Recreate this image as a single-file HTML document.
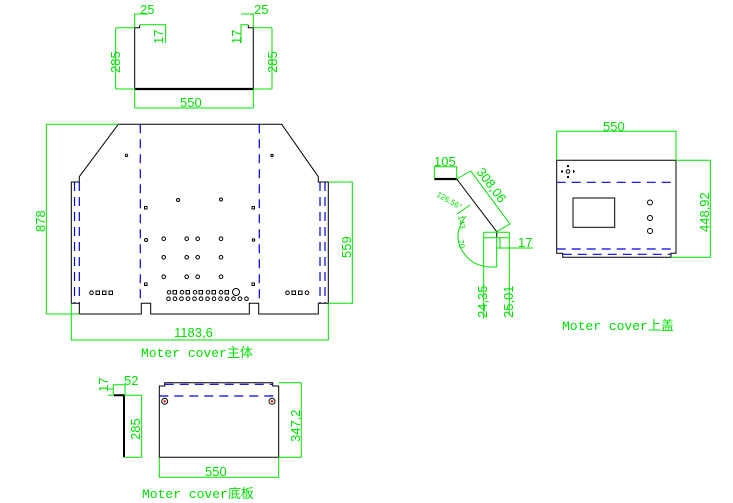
<!DOCTYPE html>
<html><head><meta charset="utf-8"><style>
html,body{margin:0;padding:0;background:#fff}
svg{display:block}
.g{stroke:#00e000;fill:none;stroke-width:1}
.k{stroke:#000;fill:none;stroke-width:1}
.b{stroke:#0000e0;fill:none;stroke-width:1.2;stroke-dasharray:9,6}
text{font-family:"Liberation Sans",sans-serif;fill:#00e000;font-size:13px}
.lbl{font-family:"Liberation Mono","Noto Sans CJK SC",monospace;font-size:13px}
</style></head><body>
<svg width="733" height="503" viewBox="0 0 733 503" xmlns="http://www.w3.org/2000/svg">
<!-- TOP VIEW -->
<path class="k" d="M134.7,89 V27.7 H139.7 V25 M253.3,89 V27.7 H248.3 V25"/>
<line x1="134.7" y1="89" x2="253.3" y2="89" stroke="#000" stroke-width="2.2"/>
<path class="g" d="M134.7,27 V14 H148 M139.7,24.7 H165.7 V43 M253.3,27 V14 H241 M248.3,24.7 H241 V43"/>
<path class="g" d="M115.7,27.7 V89 M115.7,27.7 H134.7 M115.7,89 H134.7 M272,27.7 V89 M253.3,27.7 H272 M253.3,89 H272 M134.7,89 V108 M253.3,89 V108 M134.7,108 H253.3"/>
<text x="140" y="14">25</text><text x="254" y="14">25</text>
<text transform="translate(163,44) rotate(-90)">17</text>
<text transform="translate(241,44) rotate(-90)">17</text>
<text transform="translate(120,73) rotate(-90)">285</text>
<text transform="translate(277,73) rotate(-90)">285</text>
<text x="180" y="107">550</text>

<!-- MAIN VIEW -->
<path class="k" d="M118.3,124.3 H281.7 L318.3,176.7 V182 H328.3 V303.3 H318.3 V314 H258.7 V303.3 H249.3 V314 H150.7 V303.3 H141.3 V314 H79.3 V303.3 H71.3 V182 H79.3 V176.7 Z"/>
<path class="b" d="M140.3,124.3 V303 M259.3,124.3 V303 M74.5,182 V303 M79.3,182 V303 M320,182 V303 M325,182 V303"/>
<path class="g" d="M46.3,124.3 V314 M46.3,124.3 H118.3 M46.3,314 H79.3 M328.3,182 H352.3 V303.3 H328.3 M71.3,303.3 V340 H328.3 V303.3"/>
<text transform="translate(45,232) rotate(-90)">878</text>
<text transform="translate(351,258) rotate(-90)">559</text>
<text x="174" y="337">1183,6</text>
<text class="lbl" x="141" y="357">Moter cover主体</text>
<g class="k" stroke-width="0.9">
<circle cx="126.5" cy="155.5" r="1.2"/><circle cx="272" cy="155.5" r="1.2"/>
<circle cx="178" cy="200" r="1.5"/><circle cx="221" cy="199.5" r="1.5"/>
<rect x="144.5" y="206.5" width="2.5" height="2.5"/><rect x="252" y="206.5" width="2.5" height="2.5"/>
<circle cx="146" cy="240" r="1.5"/><circle cx="253.5" cy="240" r="1.3"/>
<rect x="144.5" y="283" width="2.5" height="2.5"/><rect x="252" y="283" width="2.5" height="2.5"/>
<circle cx="163.7" cy="238.7" r="1.8"/><circle cx="186.7" cy="238.7" r="1.8"/><circle cx="197.7" cy="238.7" r="1.8"/><circle cx="221" cy="238.7" r="1.8"/>
<circle cx="163.7" cy="257.3" r="1.8"/><circle cx="186.7" cy="257.3" r="1.8"/><circle cx="197.7" cy="257.3" r="1.8"/><circle cx="221" cy="257.3" r="1.8"/>
<circle cx="163.7" cy="276.7" r="1.8"/><circle cx="186.7" cy="276.7" r="1.8"/><circle cx="197.7" cy="276.7" r="1.8"/><circle cx="221" cy="276.7" r="1.8"/>
<circle cx="169" cy="292.3" r="1.8"/><rect x="173" y="290.5" width="3.5" height="3.5"/><circle cx="182" cy="292.3" r="1.8"/><rect x="186" y="290.5" width="3.5" height="3.5"/><circle cx="195" cy="292.3" r="1.8"/><rect x="199" y="290.5" width="3.5" height="3.5"/><circle cx="208" cy="292.3" r="1.8"/><rect x="212" y="290.5" width="3.5" height="3.5"/><circle cx="221" cy="292.3" r="1.8"/><rect x="225" y="290.5" width="3.5" height="3.5"/>
<circle cx="236" cy="292" r="3.5"/>
<circle cx="168.5" cy="298.7" r="1.8"/><circle cx="175" cy="298.7" r="1.8"/><circle cx="181.5" cy="298.7" r="1.8"/><circle cx="188" cy="298.7" r="1.8"/><circle cx="194.5" cy="298.7" r="1.8"/><circle cx="201" cy="298.7" r="1.8"/><circle cx="207.5" cy="298.7" r="1.8"/><circle cx="214" cy="298.7" r="1.8"/><circle cx="220.5" cy="298.7" r="1.8"/><circle cx="227" cy="298.7" r="1.8"/><circle cx="233.5" cy="298.7" r="1.8"/><circle cx="240" cy="298.7" r="1.8"/><circle cx="246.5" cy="298.7" r="1.8"/>
<circle cx="91.5" cy="292.7" r="1.8"/><rect x="96" y="291" width="3.5" height="3.5"/><rect x="102.5" y="291" width="3.5" height="3.5"/><rect x="109" y="291" width="3.5" height="3.5"/>
<circle cx="287.5" cy="292.7" r="1.8"/><rect x="292" y="291" width="3.5" height="3.5"/><rect x="298.5" y="291" width="3.5" height="3.5"/><circle cx="307" cy="292.7" r="1.8"/>
</g>

<!-- SIDE VIEW -->
<line x1="434.3" y1="179" x2="456.7" y2="179" stroke="#000" stroke-width="2.2"/>
<path class="k" stroke-width="1.4" d="M456.7,179 L496.7,231.7 V237"/>
<path class="g" d="M434.3,179 V166.7 H456.7 V179 M456.7,179 L470.7,171 L510,224 L496.7,231.7"/>
<path class="g" d="M483.7,232.3 H509.3 M483.7,237.7 H509.3 M483.7,232.3 V319 M509.3,232.3 V315 M496.7,237 V267 M500,237 V248 M496.7,248 H533 M466,216 Q448,240 470,260 Q480,268 496.7,267 M457,214 L470,205"/>
<text x="434" y="166">105</text>
<text transform="translate(476,172) rotate(53)">308,06</text>
<text x="518" y="247">17</text>
<text transform="translate(487,318) rotate(-90)">24,35</text>
<text transform="translate(513,318) rotate(-90)">25,01</text>
<text style="font-size:8px" transform="translate(436,196) rotate(30)">126.56°</text>
<text style="font-size:8px" transform="translate(458,216) rotate(80)">143.</text>
<text style="font-size:8px" transform="translate(458,240) rotate(80)">70</text>

<!-- COVER TOP -->
<path class="k" d="M556.7,253.3 V160.3 H676 V253.3 H671 V257.3 H562.7 V253.3 Z"/>
<path class="b" d="M556.7,182.3 H676 M556.7,249 H676 M562.7,254.3 H671"/>
<rect class="k" x="573" y="198" width="41.7" height="29.3"/>
<g class="k"><circle cx="650" cy="202.5" r="2.5"/><circle cx="650" cy="218" r="2.5"/><circle cx="650" cy="231" r="2.5"/><circle cx="568" cy="171.5" r="1.8"/></g>
<g fill="#000"><rect x="561" y="170.5" width="2" height="2"/><rect x="567" y="165" width="2" height="2"/><rect x="567" y="176" width="2" height="2"/><path d="M573,169.5 L575,171.5 L573,173.5Z"/></g>
<path class="g" d="M556.7,160.3 V131.3 H676 V160.3 M676,160.3 H710.3 V257.3 H671"/>
<text x="603" y="131">550</text>
<text transform="translate(709,232) rotate(-90)">448,92</text>
<text class="lbl" x="562" y="330">Moter cover上盖</text>

<!-- BOTTOM -->
<path class="k" d="M159.3,457.3 V386 H164.7 V382.7 H272.7 V386 H278.7 V457.3 Z"/>
<path class="b" d="M164.7,384.3 H272.7 M159.3,396 H278.7"/>
<circle cx="164.7" cy="401.3" r="3" stroke="#000" fill="#fff"/><circle cx="164.7" cy="401.3" r="1.2" fill="#e00000"/>
<circle cx="272" cy="401.3" r="3" stroke="#000" fill="#fff"/><circle cx="272" cy="401.3" r="1.2" fill="#e00000"/>
<path class="g" d="M278.7,382.7 H301.3 V457.3 H278.7 M159.3,457.3 V477.3 H278.7 V457.3"/>
<text transform="translate(300,442) rotate(-90)">347,2</text>
<text x="205" y="476">550</text>
<path fill="none" stroke="#000" stroke-width="2" d="M114,395.3 H124 V457.3"/>
<path class="g" d="M124,395.3 H141.7 V457.3 H124 M113.3,395.3 V384.7 H125 V395 M108,389 H113.3 M108,395.3 H114"/>
<text x="124" y="385">52</text>
<text transform="translate(108,392) rotate(-90)">17</text>
<text transform="translate(140,440) rotate(-90)">285</text>
<text class="lbl" x="142" y="498">Moter cover底板</text>
</svg>
</body></html>
